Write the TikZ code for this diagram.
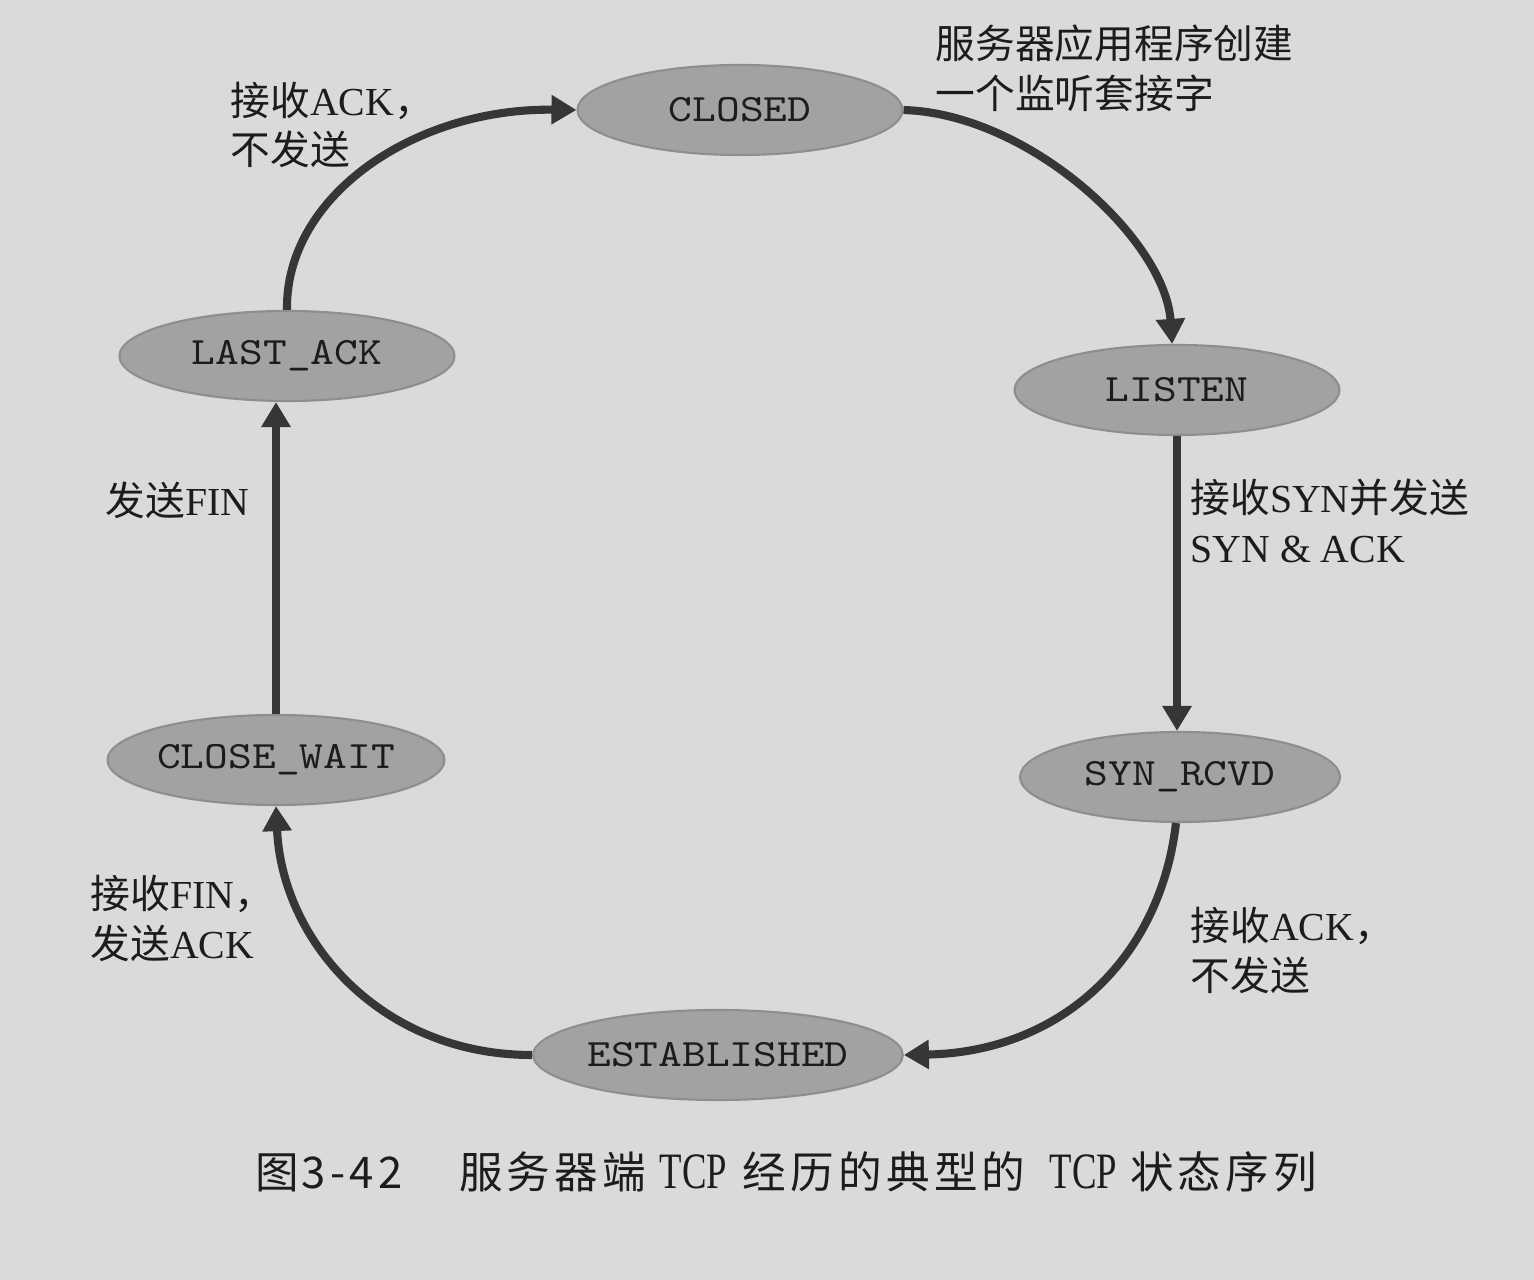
\documentclass[tikz,border=0pt]{standalone}
\usepackage{fontspec}
\usepackage{graphicx}
\setmainfont{Liberation Serif}
\newfontfamily\cjk{Noto Sans CJK SC}
\newfontfamily\capfont[LetterSpace=10]{Noto Sans CJK SC}
\newfontfamily\statefont[FakeStretch=1.17]{lmmono10-regular.otf}
\usetikzlibrary{calc,arrows.meta,shapes.geometric}

\definecolor{paper}{HTML}{DADADA}
\definecolor{statefill}{HTML}{A2A2A2}
\definecolor{stateedge}{HTML}{8E8E8E}
\definecolor{wire}{HTML}{363636}
\definecolor{ink}{HTML}{1C1C1C}

\newcommand{\tcpword}{{\rmfamily\fontsize{14.5}{14.5}\selectfont\scalebox{0.72}[1]{TCP}}}

\begin{document}
\begin{tikzpicture}[x=0.01cm,y=-0.01cm,
    state/.style={ellipse,draw=stateedge,fill=statefill,line width=0.6pt,
      minimum height=0.9cm,inner sep=0pt,text=ink,
      font=\statefont\fontsize{11}{12}\selectfont},
    trans/.style={draw=wire,line width=2.3pt,
      -{Triangle[length=0.25cm,width=0.28cm]}},
    lbl/.style={anchor=west,align=left,inner sep=0pt,text=ink,
      font=\fontsize{11.3}{14.2}\selectfont}]
  \fill[paper] (0,0) rectangle (1534,1280);

  \foreach \name/\x/\y/\w/\txt in {closed/740/110/325/CLOSED,
      listen/1177/390/325/LISTEN, synrcvd/1180/777/320/SYN\_RCVD,
      established/718/1055/345/ESTABLISHED, closewait/276/760/337/CLOSE\_WAIT,
      lastack/287/356/335/LAST\_ACK} {
    \node[state,minimum width=\w*0.01cm] (\name) at (\x,\y) {\txt};
  }

  \draw[trans] (lastack.north) .. controls (285,197) and (413,108) .. (closed.west);
  \draw[trans] (closed.east) .. controls (1030,114) and (1165,240) .. (listen.96);
  \draw[trans] (listen.south) -- (listen.south |- synrcvd.north);
  \draw[trans] (synrcvd.265) .. controls (1160,960) and (1060,1052) .. (established.east);
  \draw[trans] (established.west) .. controls (380,1055) and (282,940) .. (closewait.south);
  \draw[trans] (closewait.north) -- (closewait.north |- lastack.south);

  \node[lbl] (l1) at (230,125) {{\cjk 接收}ACK{\cjk ，}\\{\cjk 不发送}};
  \node[lbl] (l2) at (935,68) {{\cjk 服务器应用程序创建}\\{\cjk 一个监听套接字}};
  \node[lbl] (l3) at (1190,521) {{\cjk 接收}SYN{\cjk 并发送}\\SYN \& ACK};
  \node[lbl] (l4) at (1190,950) {{\cjk 接收}ACK{\cjk ，}\\{\cjk 不发送}};
  \node[lbl] (l5) at (90,918) {{\cjk 接收}FIN{\cjk ，}\\{\cjk 发送}ACK};
  \node[lbl] (l6) at (105,500) {{\cjk 发送}FIN};

  \node[anchor=west,inner sep=0pt,text=ink,font=\capfont\fontsize{12.4}{12.4}\selectfont]
    (caption) at (255,1172) {图\hspace{0.05em}3-42\hspace{1.3em}服务器端\hspace{0.3em}\tcpword\hspace{0.35em}经历的典型的\hspace{0.55em}\tcpword\hspace{0.3em}状态序列};
\end{tikzpicture}
\end{document}
